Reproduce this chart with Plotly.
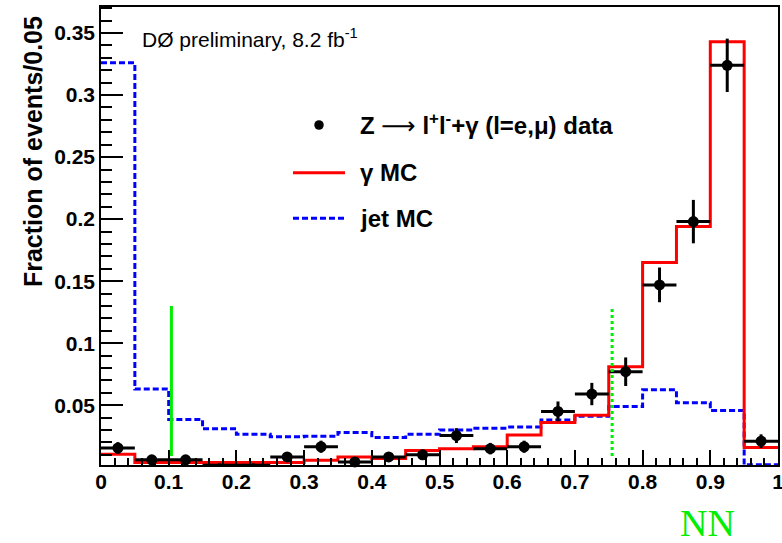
import plotly.graph_objects as go

# ---- data ----
bin_edges = [0.00, 0.05, 0.10, 0.15, 0.20, 0.25, 0.30, 0.35, 0.40, 0.45,
             0.50, 0.55, 0.60, 0.65, 0.70, 0.75, 0.80, 0.85, 0.90, 0.95, 1.00]

jet_mc = [0.326, 0.063, 0.0385, 0.031, 0.0265, 0.0245, 0.025, 0.028, 0.024, 0.0265,
          0.030, 0.0315, 0.0325, 0.038, 0.041, 0.049, 0.0625, 0.052, 0.0457, 0.002]

gamma_mc = [0.0105, 0.0038, 0.0038, 0.0038, 0.0038, 0.0038, 0.0056, 0.0083, 0.007, 0.0135,
            0.015, 0.0165, 0.026, 0.036, 0.042, 0.081, 0.165, 0.194, 0.343, 0.016]

data_vals = [0.0155, 0.006, 0.006, 0.0015, 0.0015, 0.0083, 0.0165, 0.0043, 0.0083, 0.010,
             0.0255, 0.015, 0.0165, 0.045, 0.059, 0.077, 0.147, 0.198, 0.324, 0.021]

data_errs = [0.0047, 0.0029, 0.0029, 0.0016, 0.0016, 0.0034, 0.0049, 0.0025, 0.0034, 0.0038,
             0.0060, 0.0046, 0.0049, 0.0080, 0.0090, 0.0115, 0.0140, 0.0175, 0.0215, 0.0055]

bin_half_width = [0.025] * 20

cut_solid_x = [0.104, 0.104]
cut_dotted_x = [0.755, 0.755]
cut_y = [0.009, 0.13]

x_tick_vals = [0, 0.1, 0.2, 0.3, 0.4, 0.5, 0.6, 0.7, 0.8, 0.9, 1.0]
x_tick_text = ["0", "0.1", "0.2", "0.3", "0.4", "0.5", "0.6", "0.7", "0.8", "0.9", "1"]
y_tick_vals = [0.05, 0.1, 0.15, 0.2, 0.25, 0.3, 0.35]
y_tick_text = ["0.05", "0.1", "0.15", "0.2", "0.25", "0.3", "0.35"]

centers = [e + 0.025 for e in bin_edges[:-1]]

SANS = "Liberation Sans, Arial, Helvetica, sans-serif"

fig = go.Figure()

fig.add_trace(go.Scatter(
    x=bin_edges, y=jet_mc + [jet_mc[-1]], mode="lines", line_shape="hv",
    line=dict(color="#0000ff", width=3, dash="6px,3px"), showlegend=False))

fig.add_trace(go.Scatter(
    x=bin_edges, y=gamma_mc + [gamma_mc[-1]], mode="lines", line_shape="hv",
    line=dict(color="#ff0000", width=3), showlegend=False))

fig.add_trace(go.Scatter(
    x=centers, y=data_vals, mode="markers",
    marker=dict(color="black", size=11, symbol="circle"),
    error_x=dict(type="data", array=bin_half_width, color="black", thickness=3, width=0),
    error_y=dict(type="data", array=data_errs, color="black", thickness=3, width=0),
    cliponaxis=False, showlegend=False))

fig.add_trace(go.Scatter(
    x=cut_solid_x, y=cut_y, mode="lines",
    line=dict(color="#00ee00", width=3), showlegend=False))

fig.add_trace(go.Scatter(
    x=cut_dotted_x, y=cut_y, mode="lines",
    line=dict(color="#00ee00", width=3, dash="dot"), showlegend=False))

# ---- manual legend ----
leg_text_x = 0.3796
rows_y = [0.7424, 0.6382, 0.5387]
fig.add_shape(type="circle", xref="paper", yref="paper",
              x0=0.322 - 0.0070, x1=0.322 + 0.0070, y0=rows_y[0] - 0.0105, y1=rows_y[0] + 0.0105,
              fillcolor="black", line=dict(color="black", width=0))
fig.add_shape(type="line", xref="paper", yref="paper",
              x0=0.2836, x1=0.3604, y0=rows_y[1], y1=rows_y[1],
              line=dict(color="#ff0000", width=3))
fig.add_shape(type="line", xref="paper", yref="paper",
              x0=0.2836, x1=0.3604, y0=rows_y[2], y1=rows_y[2],
              line=dict(color="#0000ff", width=3, dash="6px,3px"))

legend_labels = ["<b>Z <span style='font-family:DejaVu Sans;font-weight:normal'>\u27f6</span> "
                 "l<sup>+</sup>l<sup>-</sup>+\u03b3 (l=e,\u03bc) data</b>",
                 "<b>\u03b3 MC</b>", "<b>jet MC</b>"]
for lab, yy in zip(legend_labels, rows_y):
    fig.add_annotation(text=lab, xref="paper", yref="paper", x=leg_text_x, y=yy,
                       xanchor="left", yanchor="middle", showarrow=False,
                       font=dict(family=SANS, size=24, color="black"))

fig.add_annotation(text="D\u00d8 preliminary, 8.2 fb<sup>-1</sup>", xref="paper", yref="paper",
                   x=0.058, y=0.932, xanchor="left", yanchor="middle", showarrow=False,
                   font=dict(family=SANS, size=21, color="black"))

fig.add_annotation(text="<b>Fraction of events/0.05</b>", xref="paper", yref="paper",
                   x=-0.1004, y=0.6834, xanchor="center", yanchor="middle", textangle=-90,
                   showarrow=False, font=dict(family=SANS, size=25, color="black"))

fig.add_annotation(text="NN", xref="paper", yref="paper", x=0.8966, y=-0.126,
                   xanchor="center", yanchor="middle", showarrow=False,
                   font=dict(family="Liberation Serif, Times New Roman, serif", size=38,
                             color="#00ee00"))

fig.update_layout(
    width=782, height=543,
    margin=dict(l=101, r=4, t=7, b=78),
    paper_bgcolor="white", plot_bgcolor="white",
    xaxis=dict(range=[0, 1], tickvals=x_tick_vals, ticktext=x_tick_text, automargin=False,
               ticks="inside", ticklen=15, tickwidth=1.5, tickcolor="black",
               ticklabeloverflow="allow",
               minor=dict(dtick=0.02, tick0=0, ticks="inside", ticklen=7, tickwidth=1.5,
                          tickcolor="black", showgrid=False),
               showline=True, linecolor="black", linewidth=1.5, mirror=True,
               showgrid=False, zeroline=False, ticklabelstandoff=-3,
               tickfont=dict(family=SANS, size=21, color="black", weight="bold")),
    yaxis=dict(range=[0.0018, 0.371], tickvals=y_tick_vals, ticktext=y_tick_text, automargin=False,
               ticks="inside", ticklen=22, tickwidth=1.5, tickcolor="black",
               minor=dict(dtick=0.01, tick0=0, ticks="inside", ticklen=11, tickwidth=1.5,
                          tickcolor="black", showgrid=False),
               showline=True, linecolor="black", linewidth=1.5, mirror=True,
               showgrid=False, zeroline=False,
               tickfont=dict(family=SANS, size=21, color="black", weight="bold")),
)

fig.write_html("out.html", config={"displayModeBar": False},
               post_script="document.body.style.margin='0';document.body.style.overflow='hidden';")
